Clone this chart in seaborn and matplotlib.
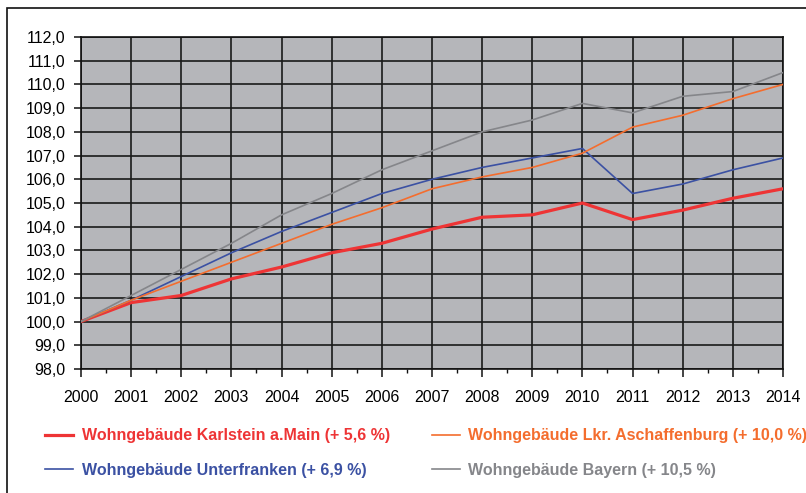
import numpy as np
import pandas as pd
import matplotlib
matplotlib.use("Agg")
import matplotlib.pyplot as plt
import seaborn as sns
from matplotlib.patches import Rectangle
from matplotlib.ticker import MultipleLocator, FuncFormatter

# Data (index 2000 = 100)
years = list(range(2000, 2015))
karlstein = [100.0, 100.8, 101.1, 101.8, 102.3, 102.9, 103.3, 103.9, 104.4, 104.5, 105.0, 104.3, 104.7, 105.2, 105.6]
aschaffenburg = [100.0, 100.9, 101.7, 102.5, 103.3, 104.1, 104.8, 105.6, 106.1, 106.5, 107.1, 108.2, 108.7, 109.4, 110.0]
unterfranken = [100.0, 100.9, 101.9, 102.9, 103.8, 104.6, 105.4, 106.0, 106.5, 106.9, 107.3, 105.4, 105.8, 106.4, 106.9]
bayern = [100.0, 101.1, 102.2, 103.3, 104.5, 105.4, 106.4, 107.2, 108.0, 108.5, 109.2, 108.8, 109.5, 109.7, 110.5]

labels = ["Wohngebäude Karlstein a.Main (+ 5,6 %)",
          "Wohngebäude Unterfranken (+ 6,9 %)",
          "Wohngebäude Lkr. Aschaffenburg (+ 10,0 %)",
          "Wohngebäude Bayern (+ 10,5 %)"]
series = [karlstein, unterfranken, aschaffenburg, bayern]
colors = ["#ee3435", "#3b51a3", "#f46d2e", "#85868a"]
widths = [2.3, 1.2, 1.2, 1.2]

plt.rcParams["font.family"] = ["Liberation Sans", "DejaVu Sans"]

fig = plt.figure(figsize=(8.06, 4.93), dpi=100)
ax = fig.add_axes([81 / 806, 1 - 369 / 493, (783 - 81) / 806, (369 - 37) / 493])
ax.set_facecolor("#b5b6ba")

for vals, lab, col, lw in zip(series, labels, colors, widths):
    sns.lineplot(x=years, y=vals, color=col, linewidth=lw, label=lab, ax=ax, zorder=3)

ax.set_xlim(2000, 2014)
ax.set_ylim(98, 112)
ax.xaxis.set_major_locator(MultipleLocator(1))
ax.xaxis.set_minor_locator(MultipleLocator(0.5))
ax.yaxis.set_major_locator(MultipleLocator(1))
ax.yaxis.set_major_formatter(FuncFormatter(lambda v, p: f"{v:.1f}".replace(".", ",")))
ax.grid(True, which="major", color="#1a1a1a", linewidth=1.2)
ax.set_axisbelow(True)
for s in ax.spines.values():
    s.set_color("#111111")
    s.set_linewidth(1.2)
ax.tick_params(axis="both", which="major", labelsize=11.5, color="#111111", width=1.1)
ax.tick_params(axis="x", which="major", length=6, pad=9)
ax.tick_params(axis="x", which="minor", length=3, width=1.0, color="#111111")
ax.tick_params(axis="y", which="major", length=5, pad=6)
ax.set_xlabel("")
ax.set_ylabel("")

handles, labs = ax.get_legend_handles_labels()
ax.get_legend().remove()
leg = fig.legend(handles, labs, ncol=2, loc="upper left",
                 bbox_to_anchor=(31 / 806, 1 - 414 / 493), frameon=False,
                 handlelength=1.75, handletextpad=0.55, columnspacing=2.6,
                 labelspacing=1.2, labelcolor="linecolor",
                 prop={"size": 11.5, "weight": "bold"})

# outer frame (cropped at right and bottom)
fig.patches.append(Rectangle((7 / 806, -0.1), 1.2, 1 - 8 / 493 + 0.1, transform=fig.transFigure,
                             fill=False, edgecolor="#111111", linewidth=1.2, clip_on=False))

fig.savefig("out.png", dpi=100)
